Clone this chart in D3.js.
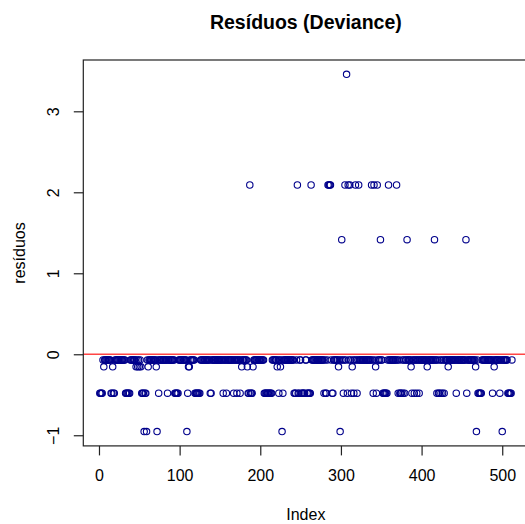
<!DOCTYPE html>
<html>
<head>
<meta charset="utf-8">
<script src="https://cdn.jsdelivr.net/npm/d3@7"></script>
<style>
  body { margin: 0; background: #fff; }
  text { font-family: "Liberation Sans", Arial, sans-serif; fill: #000; }
</style>
</head>
<body>
<div id="draw_here"></div>
<script type="text/javascript">
    // Data: deviance residuals by index
    n = 512
    // the dense band just under zero holds every index not listed below
    base_level = -0.07

    lvl_015 = -0.155
    idx_015 = [6, 17, 46, 48, 50, 52, 61, 71, 111, 112, 177, 184, 191, 221, 225, 297,
               314, 343, 387, 407, 433, 467, 490]

    lvl_048 = -0.48
    idx_048 = [1, 2, 3, 4, 15, 16, 18, 19, 33, 34, 35, 36, 37, 38, 52, 53, 54, 55, 57, 58,
               72, 74, 85, 94, 95, 96, 97, 98, 110, 119, 120, 121, 122, 123, 124, 125,
               138, 139, 154, 158, 167, 171, 175, 185, 186, 188, 189, 190,
               205, 206, 207, 208, 209, 210, 211, 212, 213, 214, 223, 228,
               242, 243, 244, 247, 248, 251, 252, 253, 254, 255, 258, 259, 260, 261, 262,
               279, 281, 282, 289, 290, 303, 308, 313, 316, 320, 340, 344,
               352, 353, 354, 355, 356, 357, 371, 373, 374, 375, 377, 379,
               388, 391, 394, 397, 419, 421, 422, 424, 426, 428, 443, 456,
               470, 471, 472, 473, 474, 488, 497, 507, 508, 509, 510, 511]

    lvl_095 = -0.955
    idx_095 = [56, 59, 72, 109, 227, 299, 468, 500]

    lvl_142 = 1.415
    idx_142 = [301, 349, 382, 416, 455]

    lvl_209 = 2.09
    idx_209 = [187, 246, 263, 284, 285, 286, 287, 305, 309, 311, 318, 322, 338, 341,
               345, 359, 369]

    lvl_346 = 3.457
    idx_346 = [307]

    // build the series
    resid = new Array(n).fill(base_level)
    ;[[idx_048, lvl_048], [idx_015, lvl_015], [idx_095, lvl_095],
      [idx_142, lvl_142], [idx_209, lvl_209], [idx_346, lvl_346]]
        .forEach(([ids, v]) => ids.forEach(i => { resid[i - 1] = v }))
    data = resid.map((v, i) => ({x: i + 1, y: v}))

    x_ticks = [0, 100, 200, 300, 400, 500]
    y_ticks = [-1, 0, 1, 2, 3]

    // Setup Chart
    canvas = ({width: 525, height: 524})
    plot = ({left: 83.3, right: 528.4, top: 60, bottom: 445.9})
    navy = "#00008b"

    // R style 4% padding on the data range
    pad = (e) => [e[0] - 0.04 * (e[1] - e[0]), e[1] + 0.04 * (e[1] - e[0])]

    x = d3.scaleLinear()
        .domain(pad(d3.extent(data, d => d.x)))
        .range([plot.left, plot.right])

    y = d3.scaleLinear()
        .domain(pad(d3.extent(data, d => d.y)))
        .range([plot.bottom, plot.top])

    var svg = d3.select("div#draw_here").append("svg")
        .attr("width", canvas.width)
        .attr("height", canvas.height)
        .attr("viewBox", [0, 0, canvas.width, canvas.height]);

    // points
    svg.append("g")
        .selectAll("circle")
        .data(data)
        .join("circle")
        .attr("cx", d => x(d.x))
        .attr("cy", d => y(d.y))
        .attr("r", 3.2)
        .attr("fill", "none")
        .attr("stroke", navy)
        .attr("stroke-width", 1.1);

    // zero line
    svg.append("line")
        .attr("x1", plot.left)
        .attr("x2", plot.right)
        .attr("y1", y(0))
        .attr("y2", y(0))
        .attr("stroke", "#ff4545")
        .attr("stroke-width", 1.5);

    // box
    svg.append("rect")
        .attr("x", plot.left)
        .attr("y", plot.top)
        .attr("width", plot.right - plot.left)
        .attr("height", plot.bottom - plot.top)
        .attr("fill", "none")
        .attr("stroke", "#222")
        .attr("stroke-width", 1.2);

    // axes
    xAxis = g => g
        .attr("transform", `translate(0,${plot.bottom})`)
        .call(d3.axisBottom(x).tickValues(x_ticks).tickSize(9.5).tickSizeOuter(0).tickFormat(d3.format("d")))
        .call(g => g.select(".domain").remove())
        .call(g => g.selectAll(".tick line").attr("stroke", "#222").attr("stroke-width", 1.2))
        .call(g => g.selectAll(".tick text")
            .attr("y", 35).attr("dy", 0)
            .attr("font-size", 16).attr("fill", "#000")
            .attr("font-family", "Liberation Sans, Arial, sans-serif"))

    yAxis = g => g
        .attr("transform", `translate(${plot.left},0)`)
        .call(d3.axisLeft(y).tickValues(y_ticks).tickSize(9.5).tickSizeOuter(0).tickFormat(d3.format("d")))
        .call(g => g.select(".domain").remove())
        .call(g => g.selectAll(".tick line").attr("stroke", "#222").attr("stroke-width", 1.2))
        .call(g => g.selectAll(".tick text")
            .attr("x", null).attr("dy", 0)
            .attr("text-anchor", "middle")
            .attr("transform", "translate(-24,0) rotate(-90)")
            .attr("font-size", 16).attr("fill", "#000")
            .attr("font-family", "Liberation Sans, Arial, sans-serif"))

    svg.append("g").call(xAxis);
    svg.append("g").call(yAxis);

    // titles
    svg.append("text")
        .attr("x", (plot.left + plot.right) / 2)
        .attr("y", 29)
        .attr("text-anchor", "middle")
        .attr("font-size", 19.5)
        .attr("font-weight", "bold")
        .text("Resíduos (Deviance)");

    svg.append("text")
        .attr("x", (plot.left + plot.right) / 2)
        .attr("y", 520)
        .attr("text-anchor", "middle")
        .attr("font-size", 16)
        .text("Index");

    svg.append("text")
        .attr("transform", `translate(24.5,${(plot.top + plot.bottom) / 2}) rotate(-90)`)
        .attr("text-anchor", "middle")
        .attr("font-size", 16)
        .text("resíduos");
</script>
</body>
</html>
